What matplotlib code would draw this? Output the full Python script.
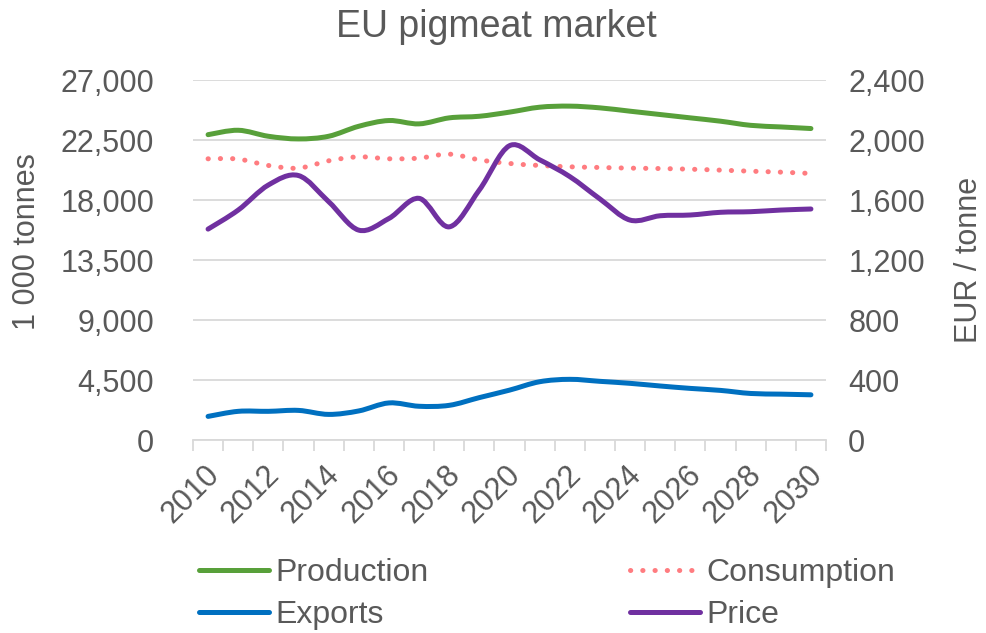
import matplotlib
matplotlib.use("Agg")
import matplotlib.pyplot as plt
import numpy as np
from matplotlib.path import Path
from matplotlib.patches import PathPatch
from matplotlib.lines import Line2D
from matplotlib.ticker import FuncFormatter, MultipleLocator
import matplotlib.transforms as mtransforms

years = list(range(2010, 2031))
production = [22900, 23230, 22780, 22580, 22780, 23530, 23960, 23710, 24160, 24280, 24590,
              24960, 25040, 24910, 24660, 24410, 24160, 23910, 23600, 23480, 23360]
consumption = [21090, 21070, 20590, 20390, 20940, 21240, 21090, 21140, 21440, 21010, 20740,
               20590, 20490, 20440, 20390, 20360, 20310, 20240, 20160, 20090, 19990]
exports = [1770, 2150, 2150, 2220, 1920, 2180, 2780, 2530, 2600, 3180, 3740,
           4370, 4550, 4400, 4250, 4050, 3870, 3720, 3490, 3440, 3390]
price = [1406, 1533, 1700, 1763, 1589, 1399, 1477, 1611, 1421, 1667, 1962,
         1868, 1756, 1607, 1466, 1495, 1500, 1518, 1522, 1533, 1540]

GREEN = "#58A03A"
PINK = "#FF7C80"
BLUE = "#0070C0"
PURPLE = "#7030A0"
GRID = "#D9D9D9"
TEXT = "#595959"

plt.rcParams["font.family"] = ["Liberation Sans", "DejaVu Sans"]


def smooth_path(x, y):
    # Excel-style smoothed line: cubic bezier through each point
    x = np.asarray(x, float); y = np.asarray(y, float)
    px = np.concatenate([[x[0]], x, [x[-1]]]); py = np.concatenate([[y[0]], y, [y[-1]]])
    verts = [(x[0], y[0])]; codes = [Path.MOVETO]
    for i in range(len(x) - 1):
        c1 = (px[i + 1] + (px[i + 2] - px[i]) / 6, py[i + 1] + (py[i + 2] - py[i]) / 6)
        c2 = (px[i + 2] - (px[i + 3] - px[i + 1]) / 6, py[i + 2] - (py[i + 3] - py[i + 1]) / 6)
        verts += [c1, c2, (x[i + 1], y[i + 1])]; codes += [Path.CURVE4] * 3
    return Path(verts, codes)


def draw(ax, y, color, **kw):
    ax.add_patch(PathPatch(smooth_path(years, y), fill=False, edgecolor=color, linewidth=3.6,
                           capstyle="round", joinstyle="round", **kw))


fig = plt.figure(figsize=(9.86, 6.33), dpi=100)
ax = fig.add_axes([193 / 986, 1 - 440 / 633, (826 - 193) / 986, 360 / 633])
ax2 = ax.twinx()

ax.set_xlim(2009.5, 2030.5)
ax.set_ylim(0, 27000)
ax2.set_ylim(0, 2400)
ax.yaxis.set_major_locator(MultipleLocator(4500))
ax2.yaxis.set_major_locator(MultipleLocator(400))
fmt = FuncFormatter(lambda v, _: f"{int(v):,}")
ax.yaxis.set_major_formatter(fmt)
ax2.yaxis.set_major_formatter(fmt)
ax.grid(axis="y", color=GRID, linewidth=1.3)
ax.set_axisbelow(True)

for a in (ax, ax2):
    for s in ("top", "left", "right", "bottom"):
        a.spines[s].set_visible(False)
ax.spines["bottom"].set_visible(True)
ax.spines["bottom"].set_color(GRID)
ax.spines["bottom"].set_linewidth(1.3)

ax.tick_params(axis="y", length=0, pad=28, labelsize=22, labelcolor=TEXT)
ax2.tick_params(axis="y", length=0, pad=16, labelsize=22, labelcolor=TEXT)

ax.set_xticks(years[::2])
ax.set_xticks(np.arange(2009.5, 2031, 1), minor=True)
ax.tick_params(axis="x", which="major", length=0, pad=14, labelsize=22, labelcolor=TEXT)
ax.tick_params(axis="x", which="minor", length=8, width=1.3, color=GRID)
offset = mtransforms.ScaledTranslation(-4 / 100, 0, fig.dpi_scale_trans)
for lbl in ax.get_xticklabels():
    lbl.set_rotation(45); lbl.set_ha("right"); lbl.set_va("top"); lbl.set_rotation_mode("anchor")
    lbl.set_transform(lbl.get_transform() + offset)

draw(ax, production, GREEN)
draw(ax, consumption, PINK, linestyle=(0, (0.05, 2.4)))
draw(ax, exports, BLUE)
draw(ax2, price, PURPLE)

ax.set_ylabel("1 000 tonnes", fontsize=22, color=TEXT)
ax.yaxis.set_label_coords(-0.238, 0.55)
ax2.set_ylabel("EUR / tonne", fontsize=22, color=TEXT, labelpad=21)
fig.text(0.503, 0.957, "EU pigmeat market", ha="center", va="center", fontsize=27, color=TEXT)

handles = [Line2D([], [], color=GREEN, lw=3.6, solid_capstyle="round"),
           Line2D([], [], color=BLUE, lw=3.6, solid_capstyle="round"),
           Line2D([], [], color=PINK, lw=3.6, linestyle=(0, (0.05, 2.4)), dash_capstyle="round"),
           Line2D([], [], color=PURPLE, lw=3.6, solid_capstyle="round")]
labels = ["Production", "Exports", "Consumption", "Price"]
leg = fig.legend(handles, labels, loc="upper left", bbox_to_anchor=(199 / 986, 1 - 558 / 633),
                 ncol=2, frameon=False, fontsize=23, handlelength=2.2, handletextpad=0.2,
                 columnspacing=6.3, labelspacing=0.38, borderpad=0, borderaxespad=0)
for t in leg.get_texts():
    t.set_color(TEXT)

fig.savefig("out.png", dpi=100)
